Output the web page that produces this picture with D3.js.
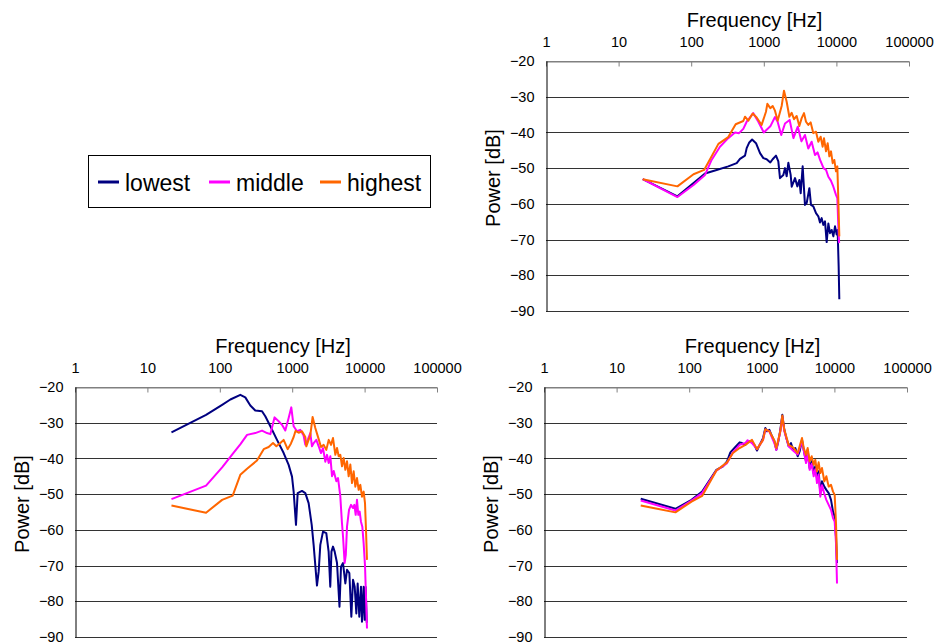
<!DOCTYPE html>
<html>
<head>
<meta charset="utf-8">
<script src="https://cdn.jsdelivr.net/npm/d3@7"></script>
<style>
body { margin: 0; background: #fff; }
text { font-family: "Liberation Sans", Arial, sans-serif; fill: #000; }
</style>
</head>
<body>
<svg id="chart" width="935" height="644"></svg>
<script>
var seriesNames = ["lowest", "middle", "highest"];
var seriesColors = ["#000080", "#ff00ff", "#ff6600"];
var freqTicks = [1, 10, 100, 1000, 10000, 100000];
var dbTicks = [-20, -30, -40, -50, -60, -70, -80, -90];

// top right panel: [frequency Hz, power dB]
var trLowest = [[21.5,-53.1],[64.6,-57.9],[107.7,-54.2],[155,-51.5],[224,-50.5],[324,-49.5],[423,-48.6],[470,-47.4],[551,-46.5],[581,-44.4],[631,-42.8],[690,-42],[781,-43],[887,-45.8],[986,-47.2],[1094,-47.5],[1230,-48.4],[1324,-47.5],[1472,-46.5],[1585,-48.1],[1671,-52.8],[1857,-51.9],[1959,-50],[2065,-52.3],[2178,-48.5],[2344,-51.9],[2423,-55.2],[2692,-52.8],[2898,-55.1],[3086,-53.3],[3223,-57],[3430,-49.5],[3690,-60.3],[3897,-59.8],[4240,-55.6],[4467,-60.3],[4810,-60.7],[5236,-62.6],[5637,-63.5],[5943,-65.2],[6266,-64],[6607,-65.9],[6964,-64.9],[7345,-70.7],[7745,-65.5],[8166,-68.2],[8610,-67.3],[9078,-69.1],[9572,-66.3],[10090,-68.6],[10400,-67.3],[10740,-77.5],[10970,-86.7]];
var trMiddle = [[21.5,-53.1],[64.6,-58.1],[107.7,-54.7],[155,-51.9],[191,-47.7],[249,-44],[324,-41.6],[401,-40],[456,-40.2],[522,-39],[581,-37],[717,-34.6],[841,-37],[1000,-40],[1230,-38.3],[1426,-35.7],[1550,-37],[1740,-40.7],[1960,-37.5],[2270,-36.5],[2560,-41.6],[2940,-38.4],[3300,-42.5],[3690,-40.7],[4100,-44.5],[4560,-42.6],[5070,-46.3],[5500,-45.6],[5960,-47.7],[6650,-50],[7200,-50.5],[7745,-52.4],[8400,-53.5],[9080,-55.2],[9870,-57.5],[10300,-58.4],[10620,-66],[10900,-71]];
var trHighest = [[21.5,-53.1],[64.6,-55.1],[107.7,-51.7],[150.7,-50.5],[237,-43.2],[324,-41.3],[410,-37.7],[522,-36.8],[551,-35.6],[612,-36.7],[703,-34.7],[798,-35.8],[934,-37.9],[1071,-34.2],[1119,-32],[1230,-33.2],[1324,-32.6],[1426,-33.9],[1552,-36.7],[1762,-32.6],[1897,-28.3],[2065,-31.4],[2249,-35.6],[2421,-34.5],[2607,-36.3],[2837,-35.4],[3086,-38.2],[3323,-36],[3580,-34.6],[3813,-37],[4105,-37.9],[4424,-37.2],[4810,-40.2],[5236,-39.8],[5637,-42.6],[6070,-41.2],[6467,-44],[6746,-41.6],[7189,-45.3],[7580,-43],[7996,-46.7],[8430,-45.3],[8890,-48.6],[9357,-47.7],[9866,-50.9],[10300,-49.5],[10633,-58.9],[10970,-69.1]];

// bottom left panel
var blLowest = [[21.5,-32.7],[64.6,-27.8],[107.7,-25],[140,-23.5],[192,-22.2],[225,-22.9],[264,-25.2],[309,-26.6],[383,-26.8],[425,-28.2],[499,-31],[617,-34.8],[762,-38.5],[893,-41.8],[994,-45.1],[1047,-49.3],[1128,-58.6],[1190,-49.7],[1365,-49.1],[1518,-49.7],[1686,-52.5],[1860,-58.6],[1977,-64.2],[2198,-75.6],[2320,-71.7],[2445,-64.2],[2663,-60.5],[2958,-60.9],[3185,-66.1],[3357,-75.9],[3485,-66.1],[3661,-64.7],[3860,-66.1],[4159,-69.3],[4500,-81.5],[4723,-70.3],[5032,-69.3],[5420,-75],[5716,-71.2],[6157,-72.1],[6560,-84.3],[6918,-74],[7296,-75.9],[7690,-83.4],[8020,-75],[8450,-84.3],[8913,-75.9],[9200,-85.7],[9700,-75.9],[10020,-85.2],[10350,-76],[10700,-86]];
var blMiddle = [[21.5,-51.4],[64.6,-47.6],[107.7,-42.5],[150.7,-38.7],[193,-36],[238,-33.4],[309,-32.9],[383,-32.2],[449,-32.9],[499,-33.2],[571,-28.5],[650,-29.6],[723,-30.6],[803,-32.2],[893,-28.7],[972,-25.7],[1047,-31],[1164,-32.4],[1290,-32],[1437,-33.6],[1518,-36.2],[1636,-34.8],[1779,-32.9],[1876,-36.6],[1980,-35.7],[2153,-34.8],[2322,-36.6],[2500,-38.5],[2663,-37.1],[2866,-40.9],[3027,-39],[3192,-41.3],[3365,-39.4],[3548,-45],[3745,-43.5],[4074,-46.4],[4295,-45.5],[4613,-50.5],[4866,-58],[5040,-62],[5300,-69.3],[5500,-67],[5716,-59.1],[6093,-54.4],[6490,-53],[6918,-53.9],[7215,-53],[7530,-55.8],[7850,-51.6],[8190,-55.8],[8550,-54.9],[8913,-57.7],[9300,-59.1],[9700,-63.7],[10130,-70],[10500,-80],[10790,-87.6]];
var blHighest = [[21.5,-53.2],[64.6,-55.2],[107.7,-51.6],[150.7,-50.4],[192,-44.6],[238,-42.9],[326,-40.6],[404,-37.4],[473,-36.8],[543,-35.7],[604,-36.6],[686,-35.7],[762,-34.8],[865,-37.4],[962,-35.8],[1047,-34],[1110,-32.3],[1227,-32.8],[1365,-32.4],[1518,-34],[1567,-36.6],[1779,-33.5],[1914,-28.4],[2085,-31.5],[2322,-34.6],[2500,-36.8],[2721,-36.2],[2959,-37.6],[3192,-34.8],[3437,-36.2],[3661,-34.3],[3945,-39],[4159,-37.1],[4385,-39.4],[4624,-39],[4875,-42.2],[5140,-39.9],[5420,-43.2],[5716,-40.8],[6026,-45],[6353,-41.7],[6698,-46.9],[7063,-43.6],[7447,-47.9],[7850,-45.5],[8280,-48.8],[8730,-47.4],[9200,-50.7],[9700,-49.3],[10130,-52.5],[10450,-60],[10790,-68.4]];

// bottom right panel
var brLowest = [[21.5,-51.3],[64.6,-54.1],[107.7,-51.6],[150.7,-49.3],[237,-43.2],[292,-42.2],[332,-40.8],[369,-38.3],[432,-36.8],[495,-35.5],[533,-35.7],[593,-36.2],[659,-35.2],[733,-35.5],[789,-36.2],[859,-37.8],[935,-36.2],[1040,-34.3],[1119,-31.5],[1180,-32.4],[1271,-32],[1382,-33.8],[1489,-35.2],[1585,-37.6],[1690,-35.2],[1800,-32],[1918,-27.8],[2043,-32],[2178,-34.3],[2344,-36.6],[2523,-35.7],[2690,-37.6],[2897,-37.1],[3119,-39.4],[3324,-38],[3580,-34.8],[3776,-37.6],[4066,-40.8],[4285,-37.6],[4563,-42.7],[4862,-40.8],[5180,-44.1],[5460,-42.2],[5754,-45.5],[6067,-43.6],[6397,-49.7],[6745,-46.4],[7263,-47.9],[7745,-48.8],[8340,-49.7],[8980,-51.6],[9572,-54.9],[10090,-56.3],[10520,-61.9],[10860,-69.3]];
var brMiddle = [[21.5,-51.8],[64.6,-54.6],[107.7,-51.8],[150.7,-49.7],[237,-43.4],[332,-41.3],[400,-38.3],[495,-36.2],[593,-35.7],[638,-34.9],[733,-35.7],[859,-37.4],[1040,-34.8],[1119,-32],[1271,-32.4],[1489,-35.7],[1585,-37.6],[1800,-32.4],[1918,-28.4],[2043,-32.4],[2344,-36.6],[2690,-37.8],[3119,-38.9],[3580,-35.1],[4066,-41.3],[4285,-38.5],[4563,-43.2],[4862,-41.5],[5180,-45],[5460,-43],[5754,-46.9],[6067,-44.5],[6397,-50.7],[6745,-47.5],[7263,-49.9],[7745,-51.6],[8340,-53],[8980,-54.4],[9572,-56.7],[10090,-57.7],[10520,-63.7],[10860,-75]];
var brHighest = [[21.5,-53.2],[64.6,-55.1],[107.7,-52.1],[150.7,-50.5],[237,-43.4],[332,-41.1],[400,-38.5],[495,-37.1],[593,-36.2],[733,-34.8],[859,-37.4],[1040,-34.8],[1119,-31.8],[1271,-32.4],[1489,-35],[1585,-37.1],[1800,-32.4],[1918,-28],[2043,-32],[2344,-36.2],[2690,-36.9],[3119,-38.5],[3580,-34.3],[3776,-37],[4066,-39],[4285,-37.1],[4563,-40.8],[4862,-39.4],[5180,-41.8],[5460,-40.4],[5754,-43.6],[6067,-41.1],[6397,-44.1],[6745,-42.7],[7263,-46.4],[7745,-45],[8340,-47.9],[8980,-47.4],[9572,-49.3],[10090,-50.2],[10520,-58.1],[10860,-68.4]];

var panels = [
    {left: 546, right: 909, top: 61, bottom: 311, series: [trLowest, trMiddle, trHighest]},
    {left: 75, right: 437, top: 387, bottom: 637, series: [blLowest, blMiddle, blHighest]},
    {left: 544, right: 907, top: 387, bottom: 637, series: [brLowest, brMiddle, brHighest]}
];

var svg = d3.select("#chart");

panels.forEach(function (p) {
    var x = d3.scaleLog().domain([1, 100000]).range([p.left, p.right]);
    var y = d3.scaleLinear().domain([-90, -20]).range([p.bottom, p.top]);
    var g = svg.append("g");

    // horizontal gridlines
    g.append("g").selectAll("line").data(dbTicks).join("line")
        .attr("x1", p.left).attr("x2", p.right)
        .attr("y1", d => Math.round(y(d)) + 0.5).attr("y2", d => Math.round(y(d)) + 0.5)
        .attr("stroke", d => d == -20 ? "#808080" : "#333")
        .attr("stroke-width", 1);

    // frequency axis on top, ticks pointing into the plot
    var xAxis = g.append("g")
        .attr("transform", "translate(0," + (Math.round(p.top) + 0.5) + ")")
        .call(d3.axisTop(x).tickValues(freqTicks).tickFormat(d3.format("d"))
            .tickSizeInner(-5).tickSizeOuter(0).tickPadding(15));
    xAxis.select(".domain").attr("stroke", "#808080");
    xAxis.selectAll(".tick line").attr("stroke", "#808080");
    xAxis.selectAll("text").attr("font-size", "14.5px").attr("font-family", null);

    // power axis
    var yAxis = g.append("g")
        .attr("transform", "translate(" + (Math.round(p.left) + 0.5) + ",0)")
        .call(d3.axisLeft(y).tickValues(dbTicks).tickFormat(d3.format("d"))
            .tickSize(0).tickPadding(12));
    yAxis.select(".domain").attr("stroke", "#000");
    yAxis.selectAll("text").attr("font-size", "14.5px").attr("font-family", null);

    // axis titles
    g.append("text")
        .attr("x", (p.left + p.right) / 2 + 27).attr("y", p.top - 34)
        .attr("text-anchor", "middle").attr("font-size", "20px")
        .text("Frequency [Hz]");
    g.append("text")
        .attr("transform", "translate(" + (p.left - 53) + "," + ((p.top + p.bottom) / 2 - 8) + ") rotate(-90)")
        .attr("text-anchor", "middle").attr("dy", "0.35em").attr("font-size", "20px")
        .text("Power [dB]");

    var line = d3.line().x(d => x(d[0])).y(d => y(d[1]));
    g.append("g").selectAll("path").data(p.series).join("path")
        .attr("fill", "none")
        .attr("stroke", (d, i) => seriesColors[i])
        .attr("stroke-width", 2)
        .attr("stroke-linejoin", "round")
        .attr("d", line);
});

// legend
var legend = svg.append("g");
legend.append("rect")
    .attr("x", 88.5).attr("y", 155.5).attr("width", 342).attr("height", 52)
    .attr("fill", "#fff").attr("stroke", "#000").attr("stroke-width", 1);
var legendX = [98, 209, 320];
var item = legend.selectAll("g.item").data(seriesNames).join("g")
    .attr("transform", (d, i) => "translate(" + legendX[i] + ",182)");
item.append("line")
    .attr("x1", 0).attr("x2", 21).attr("y1", 0).attr("y2", 0)
    .attr("stroke", (d, i) => seriesColors[i]).attr("stroke-width", 3);
item.append("text")
    .attr("x", 27).attr("y", 8.5).attr("font-size", "23px")
    .text(d => d);
</script>
</body>
</html>
